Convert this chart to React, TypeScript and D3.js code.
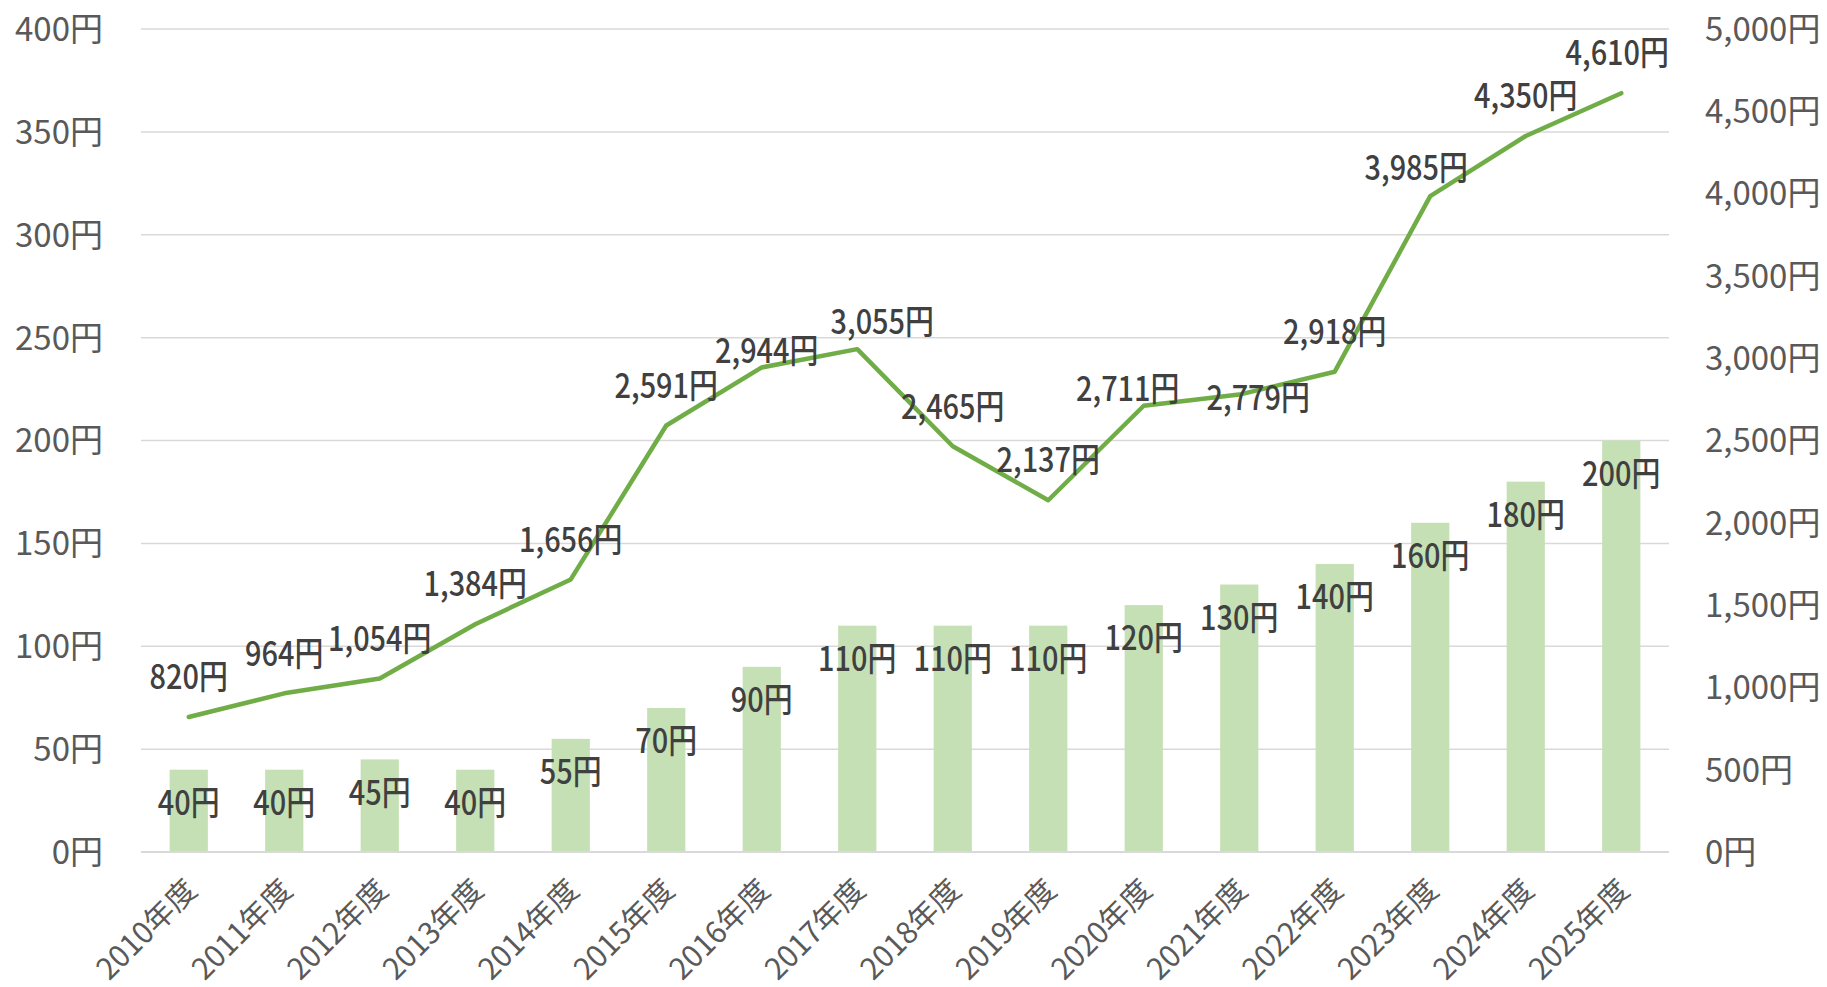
import React from "react";
import * as d3 from "d3";

const categories = ["2010年度","2011年度","2012年度","2013年度","2014年度","2015年度","2016年度","2017年度","2018年度","2019年度","2020年度","2021年度","2022年度","2023年度","2024年度","2025年度"];
const barValues = [40,40,45,40,55,70,90,110,110,110,120,130,140,160,180,200];
const lineValues = [820,964,1054,1384,1656,2591,2944,3055,2465,2137,2711,2779,2918,3985,4350,4610];
const leftTicks = [0,50,100,150,200,250,300,350,400];
const rightTicks = [0,500,1000,1500,2000,2500,3000,3500,4000,4500,5000];
// manual label nudges (dx, dy) for line data labels, as in the reference
const lineLabelNudge: [number, number][] = [[0,0],[0,0],[0,0],[0,0],[0,0],[0,0],[5,23],[25,13],[0,0],[0,0],[-16,23],[19,43],[0,0],[-14,12],[0,0],[-4,0]];

const W = 1827, H = 987;
const left = 141, right = 1669, top = 29, bottom = 852;

const fmt = d3.format(",");
const axisFont = "'Noto Sans CJK JP', 'Noto Sans', sans-serif";
const labelFont = "'Noto Sans CJK JP', sans-serif";

export default function App() {
  const x = d3.scaleBand<string>().domain(categories).range([left, right]).paddingInner(0.6).paddingOuter(0.3);
  const xc = (c: string) => (x(c) as number) + x.bandwidth() / 2;
  const yL = d3.scaleLinear().domain([0, 400]).range([bottom, top]);
  const yR = d3.scaleLinear().domain([0, 5000]).range([bottom, top]);
  const line = d3.line<number>().x((_, i) => xc(categories[i])).y((v) => yR(v));

  const dataLabel = (key: string, px: number, py: number, txt: string) => (
    <text key={key} transform={`translate(${px},${py}) scale(0.85,1)`} dy="0.36em" textAnchor="middle" fontFamily={labelFont} fontSize={34} fontWeight={500} fill="#404040">{txt}</text>
  );

  return (
    <svg width={W} height={H} style={{ position: "absolute", left: 0, top: 0, background: "#fff" }}>
      {leftTicks.map((t) => (
        <line key={"g" + t} x1={left} x2={right} y1={yL(t)} y2={yL(t)} stroke="#D9D9D9" strokeWidth={1.5} />
      ))}
      {categories.map((c, i) => (
        <rect key={"b" + c} x={x(c)} y={yL(barValues[i])} width={x.bandwidth()} height={bottom - yL(barValues[i])} fill="#C5E0B4" />
      ))}
      <line x1={left} x2={right} y1={bottom} y2={bottom} stroke="#D9D9D9" strokeWidth={2} />
      <path d={line(lineValues) || ""} fill="none" stroke="#70AD47" strokeWidth={4.5} strokeLinejoin="round" strokeLinecap="round" />
      {leftTicks.map((t) => (
        <text key={"l" + t} x={103} y={yL(t)} dy="0.36em" textAnchor="end" fontFamily={axisFont} fontSize={33} fill="#595959">{t}円</text>
      ))}
      {rightTicks.map((t) => (
        <text key={"r" + t} x={1705} y={yR(t)} dy="0.36em" textAnchor="start" fontFamily={axisFont} fontSize={33} fill="#595959">{fmt(t)}円</text>
      ))}
      {categories.map((c) => (
        <text key={"x" + c} transform={`translate(${xc(c) + 10},${bottom + 40}) rotate(-45)`} textAnchor="end" fontFamily={axisFont} fontSize={30} fill="#595959">{c}</text>
      ))}
      {categories.map((c, i) => dataLabel("bl" + c, xc(c), yL(barValues[i]) + 33, `${barValues[i]}円`))}
      {categories.map((c, i) => dataLabel("ll" + c, xc(c) + lineLabelNudge[i][0], yR(lineValues[i]) - 40 + lineLabelNudge[i][1], `${fmt(lineValues[i])}円`))}
    </svg>
  );
}
